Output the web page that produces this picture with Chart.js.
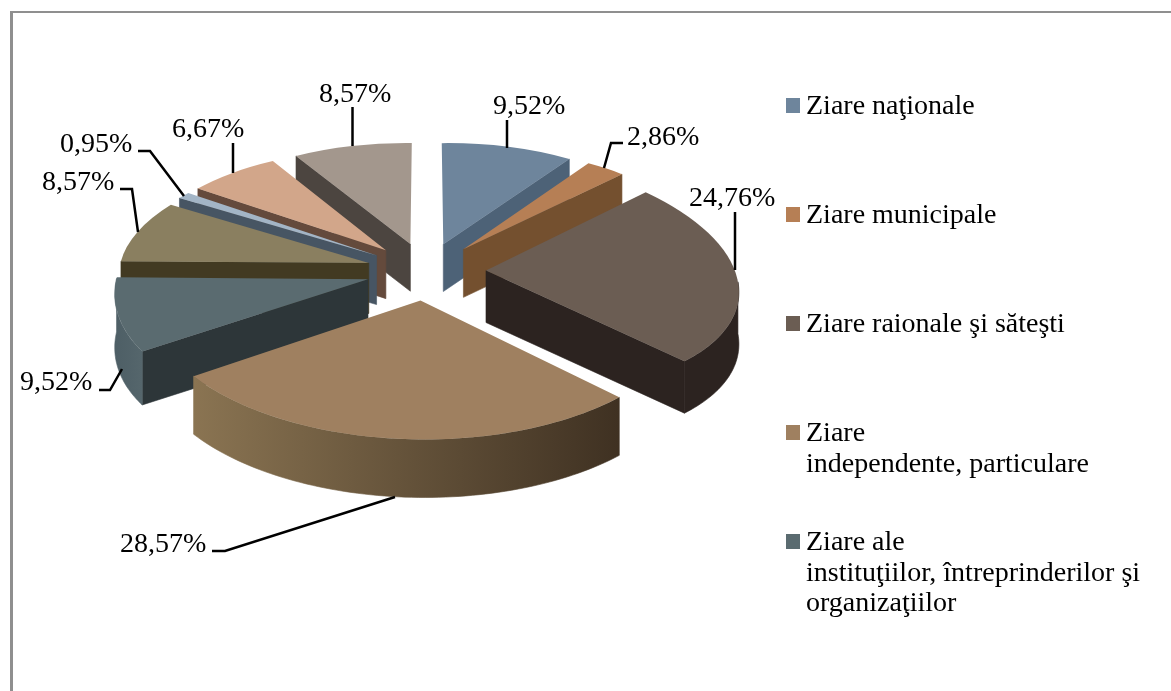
<!DOCTYPE html>
<html><head><meta charset="utf-8">
<style>
html,body{margin:0;padding:0;background:#fff;overflow:hidden}
#frame{position:absolute;left:10px;top:11px;width:1300px;height:800px;border-left:3px solid #8f8f8f;border-top:2px solid #8f8f8f}
canvas{position:absolute;left:0;top:0}
</style>
<script src="https://cdn.jsdelivr.net/npm/chart.js@4"></script>
</head><body>
<div id="frame"></div>
<canvas id="c" width="1171" height="691"></canvas>
<script>
const categories = ["Ziare naţionale","Ziare municipale","Ziare raionale şi săteşti","Ziare independente, particulare","Ziare ale instituţiilor, întreprinderilor şi organizaţiilor","Cat 6","Cat 7","Cat 8","Cat 9"];
const shares = [9.52,2.86,24.76,28.57,9.52,8.57,0.95,6.67,8.57];
const valueLabels = ["9,52%","2,86%","24,76%","28,57%","9,52%","8,57%","0,95%","6,67%","8,57%"];
const topColors = ["#6e859c","#b67f55","#6b5d53","#9f8060","#5a6b70","#8a7f60","#a3b5c6","#d2a68a","#a3978d"];
const edgeColors = ["#4d6277","#74502f","#2c2320","#3f3122","#2d3639","#423a22","#475563","#644a3c","#4c4540"];
const rimFrom = ["#4d6277","#74502f","#2c2320","#8a7452","#4e5f66","#423a22","#475563","#644a3c","#4c4540"];
const rimTo = ["#4d6277","#74502f","#2c2320","#3f3122","#55666c","#423a22","#475563","#644a3c","#4c4540"];
const legendEntries = [["Ziare naţionale"],["Ziare municipale"],["Ziare raionale şi săteşti"],["Ziare","independente, particulare"],["Ziare ale","instituţiilor, întreprinderilor şi","organizaţiilor"]];
const labelX = [493,627,689,120,20,42,60,172,319];
const labelY = [114,145,206,552,390,190,152,137,102];
const leaders = [
 [[507,120],[507,148]],
 [[623,143],[611,143],[604,168]],
 [[735,212],[735,270]],
 [[212,551],[225,551],[395,497]],
 [[99,390],[110,390],[122,369]],
 [[120,189],[132,189],[138,232]],
 [[138,151],[150,151],[184,196]],
 [[233,143],[233,173]],
 [[352.5,107],[352.5,146]]
];
const view = {cx:426, cy:271, fx:250, fy:120, px:0.10, py:0.125, explode:0.24, depth:52};
const labelFont = '28px "Liberation Serif"';

function project(u,v){
  return {x:view.cx+view.fx*u/(1-view.px*v), y:view.cy+view.fy*v/(1-view.py*v)};
}
function sliceGeometry(el){
  const R=el.outerRadius, a0=el.startAngle, a1=el.endAngle, mid=(a0+a1)/2;
  const eu=view.explode*Math.cos(mid), ev=view.explode*Math.sin(mid);
  const A=project(eu,ev);
  const B=project(eu+Math.cos(a0),ev+Math.sin(a0));
  const C=project(eu+Math.cos(a1),ev+Math.sin(a1));
  const e1=[R*Math.cos(a0),R*Math.sin(a0)], e2=[R*Math.cos(a1),R*Math.sin(a1)];
  const det=e1[0]*e2[1]-e2[0]*e1[1];
  const f1=[B.x-A.x,B.y-A.y], f2=[C.x-A.x,C.y-A.y];
  const a=(f1[0]*e2[1]-f2[0]*e1[1])/det, c=(f2[0]*e1[0]-f1[0]*e2[0])/det;
  const b=(f1[1]*e2[1]-f2[1]*e1[1])/det, d=(f2[1]*e1[0]-f1[1]*e2[0])/det;
  const e=A.x-a*el.x-c*el.y, f=A.y-b*el.x-d*el.y;
  const map=(t,r)=>{const x=el.x+R*r*Math.cos(t),y=el.y+R*r*Math.sin(t);return {x:a*x+c*y+e,y:b*x+d*y+f};};
  const vc=ev+0.6*Math.sin(mid);
  return {m:[a,b,c,d,e,f],map,a0,a1,A,B,C,drop:view.depth/(1-view.py*vc)};
}
function poly(ctx,pts,fill){
  ctx.beginPath();
  pts.forEach((p,i)=>i?ctx.lineTo(p.x,p.y):ctx.moveTo(p.x,p.y));
  ctx.closePath();
  ctx.fillStyle=fill;ctx.strokeStyle=fill;ctx.lineWidth=0.6;
  ctx.fill();ctx.stroke();
}
function drawWalls(ctx,g,i){
  const d=g.drop, down=p=>({x:p.x,y:p.y+d});
  if(-Math.cos(g.a0)>0) poly(ctx,[g.A,g.B,down(g.B),down(g.A)],edgeColors[i]);
  if(Math.cos(g.a1)>0) poly(ctx,[g.A,g.C,down(g.C),down(g.A)],edgeColors[i]);
  const top=[];
  const n=72;
  for(let k=0;k<=n;k++){
    const t=g.a0+(g.a1-g.a0)*k/n;
    if(Math.sin(t)>=-0.01) top.push(g.map(t,1));
  }
  if(top.length>1){
    const grad=ctx.createLinearGradient(Math.min(g.B.x,g.C.x),0,Math.max(g.B.x,g.C.x),0);
    grad.addColorStop(0,rimFrom[i]);grad.addColorStop(1,rimTo[i]);
    poly(ctx,top.concat(top.slice().reverse().map(down)),grad);
  }
}
const pie3d={
  id:'pie3d',
  beforeDatasetsDraw(chart){
    const ctx=chart.ctx, els=chart.getDatasetMeta(0).data;
    const items=els.map((el,i)=>({el,i,g:sliceGeometry(el)}));
    items.forEach(o=>{o.depth=(o.g.A.y+o.g.B.y+o.g.C.y)/3;});
    items.sort((p,q)=>p.depth-q.depth);
    items.forEach(({el,i,g})=>{
      drawWalls(ctx,g,i);
      ctx.save();
      ctx.transform(...g.m);
      el.draw(ctx,chart.chartArea);
      ctx.restore();
    });
    return false;
  },
  afterDraw(chart){
    const ctx=chart.ctx;
    ctx.save();
    ctx.strokeStyle='#000';ctx.lineWidth=2.5;ctx.lineJoin='miter';
    leaders.forEach(l=>{ctx.beginPath();l.forEach((p,i)=>i?ctx.lineTo(p[0],p[1]):ctx.moveTo(p[0],p[1]));ctx.stroke();});
    ctx.fillStyle='#000';ctx.font=labelFont;ctx.textBaseline='alphabetic';ctx.textAlign='left';
    valueLabels.forEach((t,i)=>ctx.fillText(t,labelX[i],labelY[i]));
    legendEntries.forEach((lines,i)=>{
      const base=114+109*i;
      ctx.fillStyle=topColors[i];
      ctx.fillRect(786,base-16,14,15);
      ctx.fillStyle='#000';
      lines.forEach((s,k)=>ctx.fillText(s,806,base+k*30.7));
    });
    ctx.restore();
  }
};
new Chart(document.getElementById('c'),{
  type:'pie',
  data:{labels:categories,datasets:[{data:shares,backgroundColor:topColors,borderWidth:0}]},
  options:{responsive:false,animation:false,plugins:{legend:{display:false},tooltip:{enabled:false}}},
  plugins:[pie3d]
});
</script>
</body></html>
